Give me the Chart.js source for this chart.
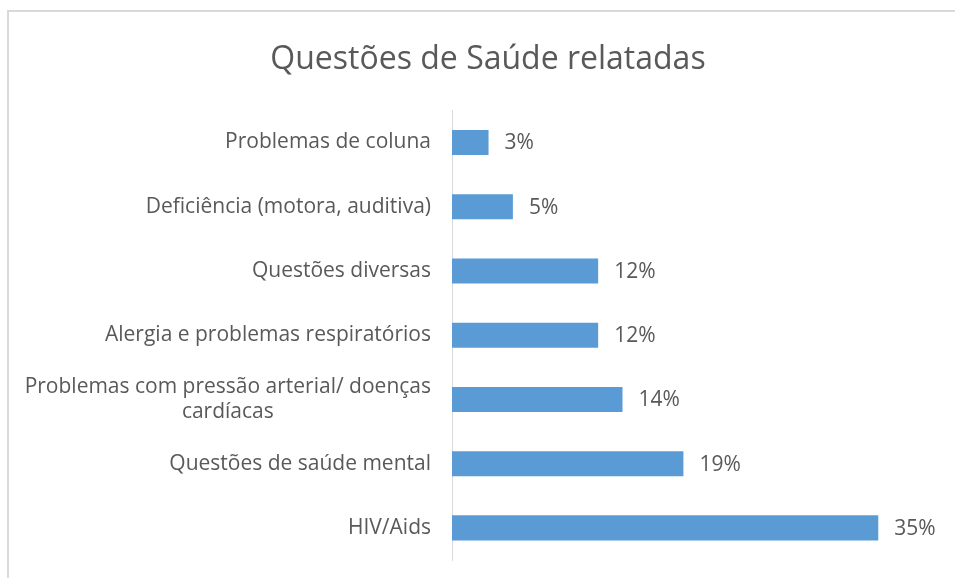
<!DOCTYPE html>
<html>
<head>
<meta charset="utf-8">
<script src="https://cdn.jsdelivr.net/npm/chart.js@4/dist/chart.umd.min.js"></script>
<style>
  body { margin: 0; background: #fff; }
  #frame {
    position: absolute; left: 7px; top: 10px; width: 960px; height: 580px;
    border-left: 2px solid #d9d9d9; border-top: 2px solid #d9d9d9;
  }
  #wrap { position: absolute; left: 0; top: 0; width: 955px; height: 578px; }
</style>
</head>
<body>
<div id="frame"></div>
<div id="wrap"><canvas id="chart"></canvas></div>
<script>
// data
const categories = [
    'Problemas de coluna',
    'Deficiência (motora, auditiva)',
    'Questões diversas',
    'Alergia e problemas respiratórios',
    ['Problemas com pressão arterial/ doenças', 'cardíacas'],
    'Questões de saúde mental',
    'HIV/Aids'
]
const percentages = [3, 5, 12, 12, 14, 19, 35]
const chartTitle = 'Questões de Saúde relatadas'

const textColor = '#595959'
const fontFamily = '"Open Sans", sans-serif'

// category labels: right aligned, extra lines centred on the widest one (like Excel)
const categoryLabels = {
    id: 'categoryLabels',
    afterDraw(chart) {
        const ctx = chart.ctx
        const y = chart.scales.y
        const right = y.right - 21
        ctx.save()
        ctx.fillStyle = textColor
        ctx.font = '21px ' + fontFamily
        ctx.textBaseline = 'middle'
        categories.forEach((label, i) => {
            const lines = Array.isArray(label) ? label : [label]
            const center = y.getPixelForValue(i)
            const lh = 25
            if (lines.length === 1) {
                ctx.textAlign = 'right'
                ctx.fillText(lines[0], right, center)
                return
            }
            const maxW = Math.max(...lines.map(l => ctx.measureText(l).width))
            ctx.textAlign = 'center'
            lines.forEach((l, j) => {
                ctx.fillText(l, right - maxW / 2, center + (j - (lines.length - 1) / 2) * lh)
            })
        })
        ctx.restore()
    }
}

// value labels after each bar
const valueLabels = {
    id: 'valueLabels',
    afterDatasetsDraw(chart) {
        const ctx = chart.ctx
        const meta = chart.getDatasetMeta(0)
        ctx.save()
        ctx.fillStyle = textColor
        ctx.font = '21px ' + fontFamily
        ctx.textAlign = 'left'
        ctx.textBaseline = 'middle'
        meta.data.forEach((bar, i) => {
            ctx.fillText(percentages[i] + '%', bar.x + 16, bar.y + 1)
        })
        ctx.restore()
    }
}

new Chart(document.getElementById('chart'), {
    type: 'bar',
    data: {
        labels: categories,
        datasets: [{
            data: percentages,
            backgroundColor: '#5b9bd5',
            barPercentage: 0.39,
            categoryPercentage: 1
        }]
    },
    options: {
        indexAxis: 'y',
        responsive: true,
        maintainAspectRatio: false,
        animation: false,
        events: [],
        // left padding shifts the title centre right, like the original
        layout: { padding: { left: 21, right: 0, top: 0, bottom: 18 } },
        plugins: {
            legend: { display: false },
            tooltip: { enabled: false },
            title: {
                display: true,
                text: chartTitle,
                color: textColor,
                font: { family: fontFamily, size: 32, weight: 'normal' },
                padding: { top: 41, bottom: 31 }
            }
        },
        scales: {
            x: {
                display: false,
                min: 0,
                max: 41.3
            },
            y: {
                grid: { display: false },
                border: { display: true, color: '#d9d9d9', width: 1 },
                ticks: { display: false },
                afterFit(scale) { scale.width = 431 }
            }
        }
    },
    plugins: [categoryLabels, valueLabels]
})
</script>
</body>
</html>
